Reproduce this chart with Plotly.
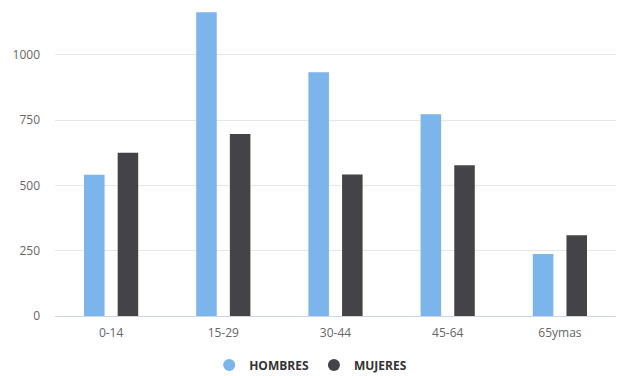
import plotly.graph_objects as go

categories = ["0-14", "15-29", "30-44", "45-64", "65ymas"]
hombres = [541, 1163, 933, 772, 237]
mujeres = [625, 697, 542, 577, 309]
y_ticks = [0, 250, 500, 750, 1000]

BLUE = "#7cb5ec"
DARK = "#434348"

fig = go.Figure()
fig.add_trace(go.Bar(x=categories, y=hombres, name="HOMBRES", marker_color=BLUE,
                     marker_line_width=0, showlegend=False))
fig.add_trace(go.Bar(x=categories, y=mujeres, name="MUJERES", marker_color=DARK,
                     marker_line_width=0, showlegend=False))
# legend entries with circular symbols
fig.add_trace(go.Scatter(x=[None], y=[None], mode="markers", name="HOMBRES",
                         marker=dict(color=BLUE, size=12, symbol="circle")))
fig.add_trace(go.Scatter(x=[None], y=[None], mode="markers", name="MUJERES",
                         marker=dict(color=DARK, size=12, symbol="circle")))

# page body has a default 8px margin, so the figure is sized to fit the window
fig.update_layout(
    width=619, height=368,
    margin=dict(l=47, r=11, t=1, b=60),
    paper_bgcolor="white", plot_bgcolor="white",
    font=dict(family="Open Sans, sans-serif", size=12, color="#666666"),
    barmode="group", bargap=0.40, bargroupgap=0.39,
    showlegend=True,
    legend=dict(orientation="h", xref="container", x=0.489, xanchor="center",
                yref="container", y=0.03, yanchor="middle",
                font=dict(size=12, color="#333333", family="Open Sans, sans-serif",
                          weight="bold"),
                itemsizing="constant", traceorder="normal", itemwidth=30),
    xaxis=dict(showgrid=False, showline=True, linecolor="#ccd6eb", linewidth=1,
               ticks="", tickfont=dict(size=12, color="#666666"), fixedrange=True,
               automargin=False, ticklabelstandoff=6),
    yaxis=dict(range=[0, 1175], tickvals=y_ticks, tickformat="d",
               showgrid=True, gridcolor="#e6e6e6", gridwidth=1, zeroline=False,
               showline=False, ticks="", ticklabelstandoff=14, automargin=False,
               tickfont=dict(size=12, color="#666666")),
)
fig.write_html("out.html")
